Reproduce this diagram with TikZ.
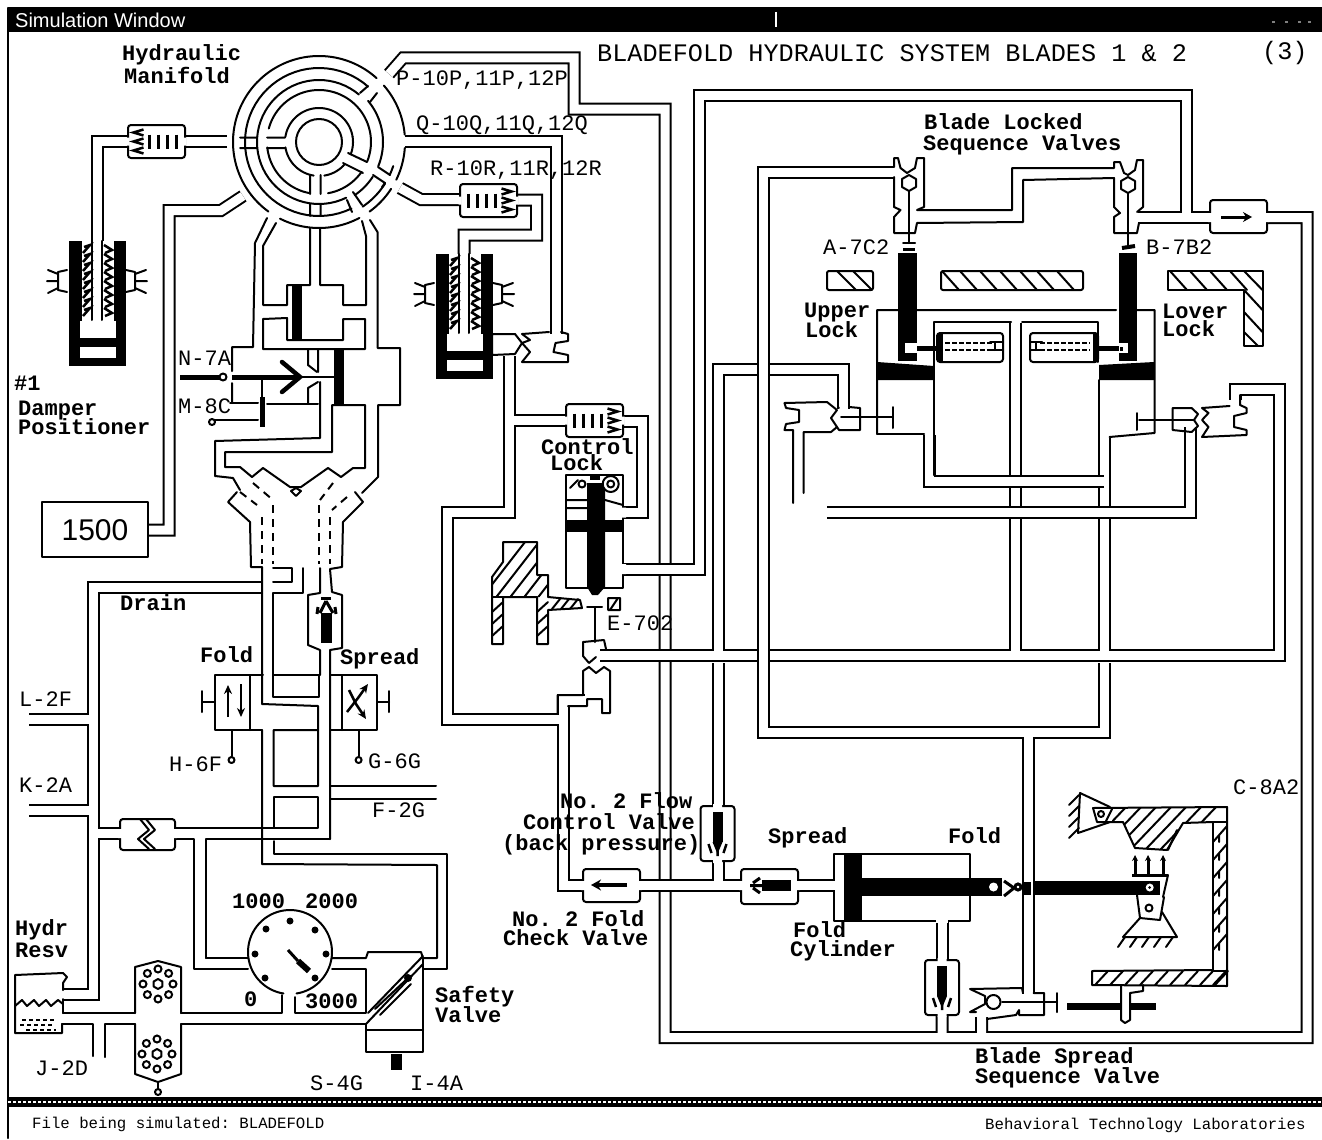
\documentclass[tikz,border=0pt]{standalone}
\usepackage{fontspec}
\setmainfont{Liberation Sans}
\setmonofont{Liberation Mono}
\usetikzlibrary{arrows.meta}
\tikzset{
 w/.style={draw=black,line width=2pt,line join=round,line cap=round},
 wt/.style={draw=black,line width=5pt,line cap=butt},
 pb/.style={draw=black,line width=13pt,line join=miter},
 pw/.style={draw=white,line width=9pt,line join=miter},
 dsh/.style={draw=black,line width=2pt,dash pattern=on 8pt off 6pt},
 lb/.style={anchor=west,inner sep=0pt,text height=12pt,text depth=1pt,font=\fontsize{22}{22}\selectfont\ttfamily\bfseries},
 lr/.style={anchor=west,inner sep=0pt,text height=12pt,text depth=1pt,font=\fontsize{22}{22}\selectfont\ttfamily},
 lt/.style={anchor=west,inner sep=0pt,font=\fontsize{25.2}{25}\selectfont\ttfamily},
 ls/.style={anchor=west,inner sep=0pt,font=\fontsize{15.7}{16}\selectfont\ttfamily},
}
\newcommand\pp[1]{\draw[pb] #1; \draw[pw] #1;}
\newcommand\marc[3]{\draw[w] plot[domain=#2:#3,samples=50] ({319+#1*cos(\x)},{142-#1*sin(\x)});}
\newcommand\vbody[4]{\draw[w,fill=white,rounded corners=3pt] (#1,#2) rectangle (#3,#4);}
\newcommand\filt[3]{%
 \begin{scope}[shift={(#1+28.5,#2+16.5)},xscale=#3]
 \draw[w,fill=white,rounded corners=3pt] (-28.5,-16.5) rectangle (28.5,16.5);
 \fill[white] (-30,-4) rectangle (-27,4) (27,-4) rectangle (30,4);
 \foreach \i in {-20,-11,-2,7} \draw[black,line width=3pt] (\i,-7)--(\i,7);
 \foreach \i in {-9,0,9} \draw[black,line width=2.5pt] (13,\i-3)--(23,\i)--(13,\i+3);
 \end{scope}}
\newcommand\damper[2]{%
 \begin{scope}[shift={(#1,#2)}]
 \fill[black] (69,241) rectangle (126,366);
 \fill[white] (82,241) rectangle (114,321);
 \fill[white] (80,321) rectangle (116,338);
 \fill[white] (80,347) rectangle (116,358);
 \draw[w] (92,241)--(92,320) (102,241)--(102,320);
 \foreach \i in {245,254,...,309} {
  \draw[black,line width=2.5pt] (83,\i+8)--(90,\i)--(84,\i+2)
     (104,\i)--(112,\i+5)--(105,\i+8);}
 \draw[w] (67,270)--(58,272)--(58,290)--(67,292);
 \draw[w] (58,274)--(48,270) (58,281)--(47,281) (58,288)--(48,293);
 \draw[w] (126,270)--(135,272)--(135,290)--(126,292);
 \draw[w] (135,274)--(146,270) (135,281)--(147,281) (135,288)--(146,293);
 \end{scope}}
\newcommand\pump[2]{%
 \begin{scope}[shift={(#1,#2)}]
 \draw[w] (30:5)--(90:5)--(150:5)--(210:5)--(270:5)--(330:5)--cycle;
 \foreach \a in {0,45,...,315} \draw[black,line width=2pt,fill=white] (\a:15) circle [radius=3.5pt];
 \end{scope}}
\newcommand\shut[2]{%
 \begin{scope}[shift={(#1,#2)}]
 \draw[w,fill=white,rounded corners=3pt] (-17,0) rectangle (17,55);
 \fill[white] (-4.5,-2) rectangle (4.5,2) (-4.5,53) rectangle (4.5,57);
 \fill[black] (-5,6) rectangle (5,36);
 \fill[black] (0,48)--(-5,36)--(5,36)--cycle;
 \draw[black,line width=2.5pt] (-9,38)--(-6,47) (9,38)--(6,47) (0,42)--(0,50);
 \end{scope}}
\begin{document}
\begin{tikzpicture}[x=1pt,y=-1pt]
\useasboundingbox (0,0) rectangle (1322,1140);
\fill[white] (0,0) rectangle (1322,1140);
% ---- window frame
\fill[black] (8,7) rectangle (1322,32);
\draw[white,line width=1.5pt] (776,12)--(776,27);
\foreach \i in {1272,1285,1298,1308} \fill[gray] (\i,21) rectangle +(3,2);
\draw[w] (8,8)--(8,1138);
\fill[black] (8,1097) rectangle (1322,1107);
\draw[white,line width=2pt,dash pattern=on 3pt off 2pt] (8,1102)--(1322,1102);
\node[anchor=west,inner sep=0pt,text=white,font=\fontsize{20}{20}\selectfont] (wintitle) at (15,20) {Simulation Window};
% ---- P network
\pp{(389,74)--(403,58)--(574,58)--(574,109)--(665,109)--(665,1037.5)--(1307,1037.5)--(1307,217.5)--(1266,217.5) (942,1037)--(942,1015) (981.5,1037)--(981.5,1017)}
\pp{(405,141.5)--(556,141.5)--(556,334)}
\pp{(400,188)--(421,199.5)--(461,199.5) (517,200)--(536.5,200)--(536.5,235)--(464,235)--(464,256)}
\pp{(227,141)--(184,141) (129,141)--(97,141)--(97,243)}
\pp{(243,196)--(221,210.5)--(169,210.5)--(169,530)--(149,530)}
% drain
\pp{(263,587)--(93.5,587)--(93.5,994.5)--(64,994.5) (93.5,719)--(29,719) (93.5,810)--(29,810) (93.5,833.5)--(121,833.5)}
% big loop
\pp{(1212,217.5)--(1186,217.5)--(1186,95)--(699,95)--(699,569)--(622,569) (1186,217.5)--(1138,217.5)}
% control lock feed
\pp{(509.5,356)--(509.5,512)--(447,512)--(447,719)--(563,719)--(563,885.5)--(584,885.5) (563,719)--(563,700.5)--(585,700.5) (509.5,420.5)--(567,420.5)}
\pp{(622,421.5)--(642,421.5)--(642,512.5)--(623,512.5)}
% 655 network
\pp{(600,655)--(1279.5,655)--(1279.5,389)--(1235,389)--(1235,400) (1015.5,655)--(1015.5,323) (1104,655)--(1104,438) (718,655)--(718,369.5)--(843.5,369.5)--(843.5,409)}
\pp{(1104,481)--(929,481)--(929,435)}
\pp{(827,512)--(1190.5,512)--(1190.5,427)}
% left-sequence return
\pp{(894,172)--(763.5,172)--(763.5,732.5)--(1104,732.5)--(1104,663) (1028.5,732.5)--(1028.5,994)}
% bottom pipes on top of P
\pp{(638,885.5)--(742,885.5) (718,885.5)--(718,860)}
\pp{(718,663)--(718,807)}
\pp{(797,885.5)--(835,885.5)}
\pp{(942,920)--(942,961)}
% ---- manifold
\draw[w] (319,142) circle [radius=23pt];
\marc{34}{9}{-21}\marc{34}{-41}{-81}\marc{34}{-99}{-171}\marc{34}{171}{9}
\marc{52}{-22}{165}\marc{52}{-35}{-80}\marc{52}{-100}{-174}
\marc{62}{50}{296}
\marc{64}{40}{-22}\marc{64}{-33}{-56}
\marc{74}{48.5}{296}
\marc{78}{-56}{-32}\marc{78}{-25}{-18}
\marc{86}{48}{175}\marc{86}{175}{218}\marc{86}{-142}{-126}\marc{86}{-117}{-62}\marc{86}{-54}{-33}\marc{86}{-26}{-4}\marc{86}{5}{41}
\draw[w] (360,93)--(368,86) (370,102)--(377,93) (347,200)--(352,212) (353,192)--(362,205)
 (373,175)--(385,183)--(382,187) (378,167)--(390,175);
\draw[w] (267,137.5)--(285,137.5) (267,148)--(285,148) (240,137.5)--(257,137.5) (240,148)--(257,148)
 (310,175)--(310,194) (320.7,175)--(320.7,194) (310,204)--(310,216) (320.7,204)--(320.7,216)
 (348,153)--(367,162) (343,163)--(363,173);
% bottom pipes off the manifold, central valve block
\draw[w] (267,218)--(255,243)--(253,347)--(232,347)--(232,371) (232,383)--(232,403);
\draw[w] (276,223)--(263,246)--(263,305)--(287,305)--(287,285)--(310,285)--(310,228);
\draw[w] (320,228)--(320,285)--(343,285)--(343,305)--(366,305)--(366,236)--(362,221);
\draw[w] (370,220)--(377.5,232)--(377.5,348)--(400,348)--(400,405)--(378,405)--(378,477)--(362,493);
\draw[w] (263,349)--(263,319)--(287,318)--(287,340)--(343,340)--(343,319)--(365,319)--(365,349)--cycle;
\fill[black] (292,285) rectangle (302,340);
\fill[black] (334,349) rectangle (344,405);
\draw[wt] (180,377)--(220,377) (232,377)--(300,377);
\draw[w] (300,377)--(334,377);
\draw[black,line width=4.5pt,line cap=round,line join=miter] (282,362)--(300,377)--(282,392);
\draw[w] (308,350)--(308,365)--(317,372) (318,350)--(318,372);
\draw[w] (308,403)--(308,388)--(318,382);
\draw[w] (262,377)--(262,397);
\draw[wt] (262,397)--(262,427);
\draw[w] (230,403)--(258,403) (213,420)--(258,420) (267,404)--(318,404);
\draw[w,fill=white] (223,377) circle [radius=3.5pt];
\draw[w,fill=white] (212,422) circle [radius=3pt];
\draw[w] (320,382)--(320,438)--(215,441)--(215,476)--(233,478)--(240,490);
\draw[w] (332,405)--(332,452)--(225,452)--(225,467)--(240,467)--(252,477)--(263,468)--(290,487)--(301,487)--(328,468)--(341,477)--(353,468)--(365,468)--(365,405)--cycle;
\draw[w,fill=white] (296,488)--(301,491)--(296,496)--(291,491)--cycle;
% Y valve
\draw[w] (237,492)--(228,502)--(250,522)--(251,567)--(262,567);
\draw[w] (355,492)--(363,502)--(343,522)--(342,567)--(330,569)--(332,592)--(342,595)--(342,648)--(330,650)--(330,839);
\draw[dsh] (240,492)--(257,505) (253,483)--(273,500) (333,483)--(320,500) (347,497)--(332,510);
\draw[dsh] (262,517)--(262,564) (273,505)--(273,564) (319,505)--(319,564) (330,517)--(330,564);
% below Y
\draw[w] (273,568)--(292,568)--(292,582)--(273,582);
\draw[w] (303,568)--(303,593)--(273,593)--(273,697)--(319,697)--(319,675)--(273,675);
\draw[w] (320,568)--(320,593)--(308,595)--(308,645)--(320,650)--(320,675);
\draw[w] (262,567)--(262,704)--(318,706)--(318,730)--(273.6,730)--(273.6,786)--(318,786)--(318,730);
\draw[w] (262,730)--(262,864)--(437,865)--(437,958)--(423,958);
\draw[w] (273.6,797)--(273.6,828)--(318,828)--(318,797)--cycle;
\draw[w] (175,828)--(273.6,828);
\draw[w] (175,839)--(193.6,839)--(193.6,969)--(248,969);
\draw[w] (206,958)--(206,839)--(330,839);
\draw[w] (206,958)--(248,958);
\draw[w] (273.6,841)--(273.6,854)--(447,854)--(447,969)--(423,969);
\draw[w] (330,786)--(436,786) (330,799)--(436,799);
% fold / spread
\draw[w] (263,675)--(215,675)--(215,730)--(262,730);
\draw[w] (250,675)--(250,730);
\draw[w] (273.6,675)--(318,675) (273.6,697)--(318,697);
\draw[w] (330,675)--(377,675)--(377,730)--(330,730) (342,675)--(342,730);
\draw[black,line width=2.5pt,-{Stealth[length=9pt,width=8pt]}] (228,717)--(228,685);
\draw[black,line width=2.5pt,-{Stealth[length=9pt,width=8pt]}] (241,684)--(241,717);
\draw[w] (215,702)--(202,702) (202,691)--(202,712);
\draw[w] (231.5,730)--(231.5,756);
\draw[w,fill=white] (231.5,760) circle [radius=3pt];
\draw[black,line width=2.5pt,-{Stealth[length=9pt,width=8pt]}] (347,712)--(358,698)--(368,684);
\draw[black,line width=2.5pt,-{Stealth[length=9pt,width=8pt]}] (349,690)--(356,704)--(366,719);
\draw[w] (377,702)--(389,702) (389,691)--(389,712);
\draw[w] (358.6,730)--(358.6,756);
\draw[w,fill=white] (358.6,760) circle [radius=3pt];
% shuttle under Y
\fill[black] (321,613) rectangle (332,643);
\fill[black] (321,597) rectangle (331,600);
\draw[black,line width=3pt] (326,601)--(320,613) (326,601)--(333,613) (318,607)--(317,614) (335,607)--(336,614);
% zig check valve
\vbody{120}{819}{175}{850}
\fill[white] (118,829) rectangle (122,838) (173,829) rectangle (177,838);
\draw[w] (146,819)--(155,830)--(144,839)--(155,849) (140,819)--(149,830)--(138,839)--(149,849);
% gauge
\draw[w] plot[domain=-81:261,samples=70] ({290+42*cos(\x)},{952-42*sin(\x)});
\foreach \p in {(290,921),(315,930),(326,954),(315,978),(265,978),(255,954),(266,929)} \fill[black] \p circle [radius=3.5pt];
\draw[black,line width=3pt] (288,950)--(298,961);
\draw[black,line width=6pt] (298,961)--(309,971);
\draw[w] (282,995)--(282,1013)--(181,1013) (294.6,997)--(294.6,1013)--(366,1013)--(366,969)--(332,969);
\draw[w] (181,1024)--(366,1024);
\draw[w] (332,958)--(366,958)--(368,952)--(421,952)--(423,958);
% safety valve
\draw[w] (423,956)--(368,1013) (423,964)--(366,1024);
\draw[w] (408,978)--(375,1009) (411,984)--(380,1015);
\fill[black] (408,978) circle [radius=4pt];
\draw[w] (423,958)--(423,1052)--(366,1052)--(366,1024) (366,1030)--(423,1030);
\fill[black] (391,1054) rectangle (402,1070);
% pumps
\draw[w] (135,1013)--(135,967)--(158,961)--(181,967)--(181,1013);
\draw[w] (135,1024)--(135,1074)--(158,1082)--(181,1074)--(181,1024);
\pump{158}{984}\pump{157}{1054}
\draw[w] (158,1082)--(158,1088);
\draw[w,fill=white] (158,1092) circle [radius=3pt];
\draw[w] (63,1013)--(135,1013) (62,1024)--(92.6,1024)--(92.6,1056) (105,1057)--(105,1024)--(135,1024);
% reservoir
\draw[w] (63,990)--(63,983)--(67,977)--(63,973)--(15,975)--(15,1033)--(62,1033)--(62,1024);
\draw[w] (63,999)--(63,1013);
\draw[w] (15,1006)--(22,1000)--(27,1006)--(34,1000)--(39,1006)--(46,1000)--(51,1006)--(58,1000)--(63,1004);
\draw[black,line width=2.5pt,dash pattern=on 4pt off 3pt] (22,1020)--(54,1020) (20,1025)--(52,1025) (26,1030)--(56,1030);
% 1500 box
\draw[w,fill=white] (42,502) rectangle (148,557);
% filters and dampers
\filt{128}{125}{-1}\filt{460}{184}{1}\filt{566}{404}{1}
\damper{0}{0}\damper{367}{13}
% valve beside right damper
\draw[w] (492,355)--(492,334)--(515,334)--(522,343)--(515,354)--cycle;
\draw[w] (522,334)--(549,332) (561,332)--(568,334)--(568,341)--(555.5,343)--(553.5,352)--(568,355)--(568,362)--(522,362)--(530,352)--(522,343)--(530,340)--(522,334);
% control lock
\draw[w,fill=white] (566,475) rectangle (623,588);
\fill[white] (620,507.5) rectangle (626,517.5) (620,564) rectangle (626,574);
\fill[black] (567,520) rectangle (623,532);
\fill[black] (587,483)--(605,483)--(605,587)--(598,595)--(592,595)--(587,587)--cycle;
\draw[w] (567,500)--(587,500) (567,508)--(587,508) (605,500)--(623,505);
\draw[w,fill=white] (610.7,484) circle [radius=8pt];
\draw[w] (610.7,484) circle [radius=3.5pt];
\draw[w,fill=white] (582,484) circle [radius=3.5pt];
\draw[w] (570,488)--(578,480);
\fill[black] (590,476) rectangle (600,480);
% hatched control lever
\begin{scope}
\clip (503,542)--(537,542)--(537,575)--(548,575)--(548,597)--(492,597)--(492,577)--cycle;
\foreach \i in {480,494,...,600} \draw[w] (\i,600)--({\i+45},542);
\end{scope}
\draw[w] (503,542)--(537,542)--(537,575)--(548,575)--(548,597)--(580,600)--(582,608)--(548,610)--(548,644)--(537,644)--(537,597)--(503,597)--(503,644)--(492,644)--(492,597)--(492,577)--(503,562)--cycle;
\draw[w] (492,597)--(503,597);
\foreach \i in {552,561,570} \draw[w] (\i,609)--(\i+8,599);
\foreach \i in {602,614,626} \draw[w] (492,\i+10)--(503,\i) (537,\i+10)--(548,\i);
\draw[w] (608,598) rectangle (620,610) (610,610)--(618,598);
\draw[w] (587,607)--(602,607) (595,607)--(595,642);
% check valve below E-702
\draw[w] (557.6,713)--(557.6,695)--(583,695)--(583,671)--(589,667)--(596,673)--(604,667)--(610,671)--(610,713)--(602,713)--(602,699)--(587,699)--(587,706)--(568,706);
\draw[w] (583,656)--(583,642)--(604,640)--(606,649) (583,656)--(589,663)--(596,657);
\fill[white] (598,651) rectangle (604,659);
% check valve boxes
\vbody{583}{869}{640}{902}
\fill[white] (581,881) rectangle (585,890) (638,881) rectangle (642,890);
\draw[black,line width=4pt,-{Stealth[length=10pt,width=11pt]}] (627,885)--(591,885);
\vbody{741}{869}{798}{904}
\fill[white] (739,881) rectangle (743,890) (796,881) rectangle (800,890);
\fill[black] (762,880) rectangle (791,891);
\draw[black,line width=3pt] (762,885.5)--(750,885.5) (760,878)--(753,883) (760,893)--(753,888);
\vbody{1210}{200}{1267}{233}
\fill[white] (1208,213) rectangle (1212,222) (1265,213) rectangle (1269,222);
\draw[black,line width=3pt,-{Stealth[length=9pt,width=10pt]}] (1221,217)--(1252,217);
\shut{717.5}{806}\shut{942}{960}
% fold cylinder
\draw[w,fill=white] (834,854) rectangle (970,921);
\fill[white] (832,881) rectangle (836,890);
\fill[white] (936,919) rectangle (948,923);
\fill[black] (844,854) rectangle (862,921);
\fill[black] (862,878) rectangle (1002,896);
\fill[white] (993.5,887) circle [radius=4.5pt];
\draw[black,line width=3pt] (1004,881)--(1014,888)--(1004,896);
\draw[black,line width=3pt,fill=white] (1018,887) circle [radius=3pt];
\fill[black] (1023,882) rectangle (1031,895);
\fill[black] (1035,881) rectangle (1160,895);
\fill[white] (1149.7,887.5) circle [radius=4pt];
\fill[black] (1149.7,887.5) circle [radius=1.5pt];
% spread seq valve
\draw[w] (1023,993)--(1022,988)--(970,989)--(985,996)--(985,1004)--(970,1012)--(976,1012);
\draw[w] (1033.5,993)--(1044,993)--(1044,1015)--(1019,1015)--(1019,1010)--(1016,1015)--(987,1019);
\draw[w] (1002,1002)--(1057,1002) (1057,993)--(1057,1012);
\draw[w,fill=white] (993.5,1002) circle [radius=7pt];
\draw[black,line width=7pt] (1067,1006)--(1156,1006);
\draw[w,fill=white] (1121,985)--(1121,1020)--(1125,1023)--(1130,1020)--(1130,993)--(1143,991)--(1143,985);
% lever
\draw[w] (1110,807)--(1080,793)--(1078,833)--(1110,822);
\foreach \i in {795,806,817,828} \draw[w] (1079,\i)--(1069,\i+10);
\begin{scope}
\clip (1123,822)--(1135,848)--(1167,850)--(1183,823)--(1213,822)--(1227,807)--(1093,808)--(1097,822)--cycle;
\foreach \i in {1085,1100,...,1230} \draw[w] (\i,850)--({\i+42},806);
\end{scope}
\fill[white] (1094,809) rectangle (1112,821);
\draw[w] (1112,809)--(1106,821);
\draw[w] (1097,822)--(1123,822)--(1135,848)--(1167,850)--(1183,823)--(1213,822)--(1213,970)--(1092,971)--(1092,985)--(1227,986)--(1227,807)--(1093,808)--cycle;
\draw[w] (1177,830)--(1168,850);
\draw[w] (1101,814) circle [radius=3pt];
\draw[w,fill=white] (1213,822) rectangle (1227,971);
\foreach \i in {826,844,...,950} \draw[w] (1213,\i+16)--(1227,\i) (1219,\i+10)--(1219,\i+16);
\foreach \i in {1095,1110,...,1215} \draw[w] (\i,985)--(\i+13,971);
\draw[w] (1213,985)--(1227,970);
\foreach \i in {1135,1148,1163} \draw[black,line width=3pt,-{Stealth[length=6pt,width=6pt]}] (\i,875)--(\i,855);
\draw[black,line width=3pt] (1132,875)--(1168,875);
\draw[w] (1168,875)--(1163,897) (1137,895)--(1140,918)--(1160,920)--(1164,897);
\draw[w] (1140,918)--(1123,937)--(1177,937)--(1162,912);
\draw[w] (1149,908) circle [radius=3.5pt];
\foreach \i in {1125,1137,...,1173} \draw[w] (\i,937)--(\i-7,947);
% cylinders in upper right
\draw[w] (877,434)--(877,310)--(898,310) (917,310)--(1116,310) (1137,310)--(1154.5,310)--(1154.5,433)--(1109.5,437);
\draw[w] (877,434)--(924,434);
\draw[w] (934,475)--(934,322)--(1011,322) (1022,322)--(1098,322)--(1098,362) (1099,380)--(1099,475);
\fill[black] (877,362)--(934,366)--(934,380)--(877,380)--cycle;
\fill[black] (1099,365)--(1154,362)--(1154,380)--(1099,380)--cycle;
\fill[black] (898,253) rectangle (917,361);
\fill[white] (905,343) rectangle (917,353);
\fill[black] (1119,253) rectangle (1137,361);
\fill[white] (1119,343) rectangle (1128,353);
\fill[black] (1120,347) rectangle (1123,351);
\draw[wt] (917,348)--(937,348) (1099,348)--(1119,348);
\draw[w,fill=white,rounded corners=3pt] (937,333) rectangle (1003,362);
\fill[black] (937,333) rectangle (943,362);
\draw[w,fill=white,rounded corners=3pt] (1030,333) rectangle (1098,362);
\fill[black] (1093,333) rectangle (1098,362);
\draw[black,line width=2pt,dash pattern=on 5pt off 2pt] (945,343)--(992,343) (945,350)--(992,350) (1040,343)--(1090,343) (1040,350)--(1090,350);
\draw[w] (995,343)--(995,350) (990,342)--(1003,342) (990,350)--(1003,350);
\draw[w] (1036,343)--(1036,350) (1030,342)--(1042,342) (1030,350)--(1042,350);
% lock stops
\begin{scope}\clip (827,271) rectangle (873,290);
\foreach \i in {837,853} \draw[w] (\i,271)--({\i+19},290);\end{scope}
\draw[w,rounded corners=2pt] (827,271) rectangle (873,290);
\begin{scope}\clip (941,271) rectangle (1083,290);
\foreach \i in {942,960,980,1000,1020,1037,1057} \draw[w] (\i,271)--({\i+17},290);\end{scope}
\draw[w,rounded corners=2pt] (941,271) rectangle (1083,290);
\foreach \i in {1170,1190,1210,1230} \draw[w] (\i,271)--({\i+17},290);
\draw[w] (1244,271)--(1262.5,290);
\foreach \i in {290,312} \draw[w] (1244,\i)--(1262.5,\i+20);
\draw[w] (1244,332)--(1258,346);
\draw[w] (1168,271)--(1262.5,271)--(1262.5,346)--(1244,346)--(1244,290)--(1168,290)--cycle;
% sequence valves top
\draw[w] (894,167)--(894,158)--(898,158)--(900.5,168)--(907,173)--(915,168)--(917,158)--(924,158)--(924,207)--(917,210)--(1012,210)--(1012,168)--(1114,168)--(1114,162)--(1120,162)--(1124,173)--(1128,175)--(1135,170)--(1137,160)--(1143,160)--(1143,207)--(1137,212);
\draw[w] (894,177)--(894,207)--(900.5,210)--(894,217)--(894,233)--(915,233)--(917,223)--(1023,222)--(1023,180)--(1114,178)--(1114,207)--(1120,213)--(1114,217)--(1114,233)--(1137,233)--(1139,223);
\draw[w,fill=white] (909,175)--(916,179)--(916,187)--(909,191)--(902,187)--(902,179)--cycle;
\draw[w,fill=white] (1128,177)--(1135,181)--(1135,189)--(1128,193)--(1121,189)--(1121,181)--cycle;
\draw[w] (909,191)--(909,243) (1128,193)--(1128,245);
\draw[w] (903,243)--(915,243);
\draw[black,line width=3pt] (903,249)--(915,249);
\draw[black,line width=4pt] (1122,248)--(1135,246);
% mid valves
\draw[w] (784.5,403)--(827,402)--(837,410)--(831,418)--(837,427)--(831,432)--(803.5,432)--(803.5,493);
\draw[w] (784.5,403)--(786,408)--(799,410)--(799,422)--(786,424)--(784.5,430)--(793,430)--(793,503);
\draw[w] (838,407)--(839,408) (849,407)--(860,408)--(860,430)--(839,430)--(837,427);
\draw[w] (841,417)--(892,417) (893,407)--(893,428);
\draw[w] (1172.6,408)--(1191.6,408)--(1198,414)--(1194,420)--(1198,426)--(1191.6,432)--(1172.6,430)--cycle;
\draw[w] (1139,420)--(1194,420) (1137,413)--(1137,430);
\draw[w] (1202,408)--(1229.6,406) (1240,395)--(1240,405)--(1246.5,408)--(1246.5,413)--(1234,416)--(1234,427)--(1246.5,430)--(1246.5,435)--(1202,437)--(1208.5,427)--(1202,420)--(1208.5,413)--(1202,408);
% ---- labels
\node[lt] (title) at (597,53) {BLADEFOLD HYDRAULIC SYSTEM BLADES 1 \& 2};
\node[lt] (pgno) at (1262,53) {(3)};
\node[lb] (t1) at (122,55) {Hydraulic};
\node[lb] (t2) at (124,78) {Manifold};
\node[lr] (t3) at (396,80) {P-10P,11P,12P};
\node[lr] (t4) at (416,125) {Q-10Q,11Q,12Q};
\node[lr] (t5) at (430,170) {R-10R,11R,12R};
\node[lb] (t6) at (14,385) {\#1};
\node[lb] (t7) at (18,410) {Damper};
\node[lb] (t8) at (18,429) {Positioner};
\node[lr] (t9) at (178,360) {N-7A};
\node[lr] (t10) at (178,408) {M-8C};
\node[inner sep=0pt,font=\fontsize{30}{30}\selectfont] (t11) at (95,530) {1500};
\node[lb] (t12) at (541,449) {Control};
\node[lb] (t13) at (550,465) {Lock};
\node[lb] (t14) at (120,605) {Drain};
\node[lb] (t15) at (200,657) {Fold};
\node[lb] (t16) at (340,659) {Spread};
\node[lr] (t17) at (19,701) {L-2F};
\node[lr] (t18) at (19,787) {K-2A};
\node[lr] (t19) at (169,766) {H-6F};
\node[lr] (t20) at (368,763) {G-6G};
\node[lr] (t21) at (372,812) {F-2G};
\node[lb] (t22) at (232,903) {1000};
\node[lb] (t23) at (305,903) {2000};
\node[lb] (t24) at (244,1001) {0};
\node[lb] (t25) at (305,1003) {3000};
\node[lb] (t26) at (15,930) {Hydr};
\node[lb] (t27) at (15,952) {Resv};
\node[lb] (t28) at (435,997) {Safety};
\node[lb] (t29) at (435,1017) {Valve};
\node[lr] (t30) at (35,1070) {J-2D};
\node[lr] (t31) at (310,1085) {S-4G};
\node[lr] (t32) at (410,1085) {I-4A};
\node[lb] (t33) at (560,803) {No. 2 Flow};
\node[lb] (t34) at (523,824) {Control Valve};
\node[lb] (t35) at (502,845) {(back pressure)};
\node[lb] (t36) at (512,921) {No. 2 Fold};
\node[lb] (t37) at (503,940) {Check Valve};
\node[lb] (t38) at (768,838) {Spread};
\node[lb] (t39) at (948,838) {Fold};
\node[lb] (t40) at (793,932) {Fold};
\node[lb] (t41) at (790,951) {Cylinder};
\node[lr] (t42) at (1233,789) {C-8A2};
\node[lb] (t43) at (975,1058) {Blade Spread};
\node[lb] (t44) at (975,1078) {Sequence Valve};
\node[lb] (t45) at (924,124) {Blade Locked};
\node[lb] (t46) at (923,145) {Sequence Valves};
\node[lr] (t47) at (823,249) {A-7C2};
\node[lr] (t48) at (1146,249) {B-7B2};
\node[lb] (t49) at (804,312) {Upper};
\node[lb] (t50) at (805,332) {Lock};
\node[lb] (t51) at (1162,313) {Lover};
\node[lb] (t52) at (1162,331) {Lock};
\node[lr] (t53) at (607,625) {E-702};
\node[ls] (t54) at (32,1124) {File being simulated: BLADEFOLD};
\node[ls] (t55) at (985,1125) {Behavioral Technology Laboratories};
\end{tikzpicture}
\end{document}
